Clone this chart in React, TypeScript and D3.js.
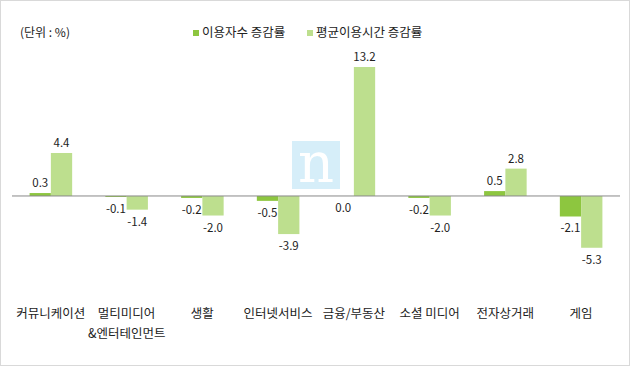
import React from 'react';
import * as d3 from 'd3';

const categories = ['커뮤니케이션', '멀티미디어\n&엔터테인먼트', '생활', '인터넷서비스', '금융/부동산', '소셜 미디어', '전자상거래', '게임'];
const userGrowth = [0.3, -0.1, -0.2, -0.5, 0.0, -0.2, 0.5, -2.1];
const timeGrowth = [4.4, -1.4, -2.0, -3.9, 13.2, -2.0, 2.8, -5.3];
const seriesNames = ['이용자수 증감률', '평균이용시간 증감률'];

const W = 630;
const H = 366;
const FONT = '"Noto Sans CJK KR", "Noto Sans", sans-serif';
const DARK = '#8dc63f';
const LIGHT = '#bddf8e';

export default function App() {
  const x = d3.scaleBand<string>().domain(categories).range([13, 619]);
  const inner = d3.scaleBand<number>().domain([0, 1]).range([0, x.bandwidth()]).paddingOuter(0.78).paddingInner(0);
  const y = d3.scaleLinear().domain([-6, 14]).range([254.6, 59.2]);
  const series = [userGrowth, timeGrowth];
  const colors = [DARK, LIGHT];

  return (
    <svg width={W} height={H} style={{ position: 'absolute', left: 0, top: 0, background: '#fff' }} fontFamily={FONT}>
      <rect x={0.5} y={0.5} width={W - 1} height={H - 1} fill="#fff" stroke="#d9d9d9" />
      <text x={20} y={37} fontSize={12} fill="#222">(단위 : %)</text>
      {seriesNames.map((name, i) => {
        const lx = i === 0 ? 193 : 307;
        return (
          <g key={name}>
            <rect x={lx} y={30} width={6} height={6} fill={colors[i]} />
            <text x={lx + 9} y={37} fontSize={12.5} fill="#222">{name}</text>
          </g>
        );
      })}
      {/* watermark */}
      <rect x={292} y={141} width={48} height={48} fill="#d6eef9" />
      <text x={316} y={182} textAnchor="middle" fontSize={56} fill="#fff" fontFamily="'DejaVu Serif', 'Liberation Serif', serif">n</text>

      {categories.map((c, ci) => (
        <g key={c} transform={`translate(${x(c)},0)`}>
          {series.map((vals, si) => {
            const v = vals[ci];
            const bx = inner(si)!;
            const bw = inner.bandwidth();
            const top = Math.min(y(v), y(0));
            const h = Math.abs(y(v) - y(0));
            const ly = v > 0 ? y(v) - 6 : y(v) + 16;
            return (
              <g key={si}>
                <rect x={bx} y={top} width={bw} height={h} fill={colors[si]} />
                <text x={bx + bw / 2} y={ly} textAnchor="middle" fontSize={11.5} fill="#222">{v.toFixed(1)}</text>
              </g>
            );
          })}
          {c.split('\n').map((line, li) => (
            <text key={li} x={x.bandwidth() / 2} y={318 + li * 20} textAnchor="middle" fontSize={12.5} fill="#222">{line}</text>
          ))}
        </g>
      ))}
      <line x1={12} x2={620} y1={y(0)} y2={y(0)} stroke="#888" strokeWidth={1} />
    </svg>
  );
}
